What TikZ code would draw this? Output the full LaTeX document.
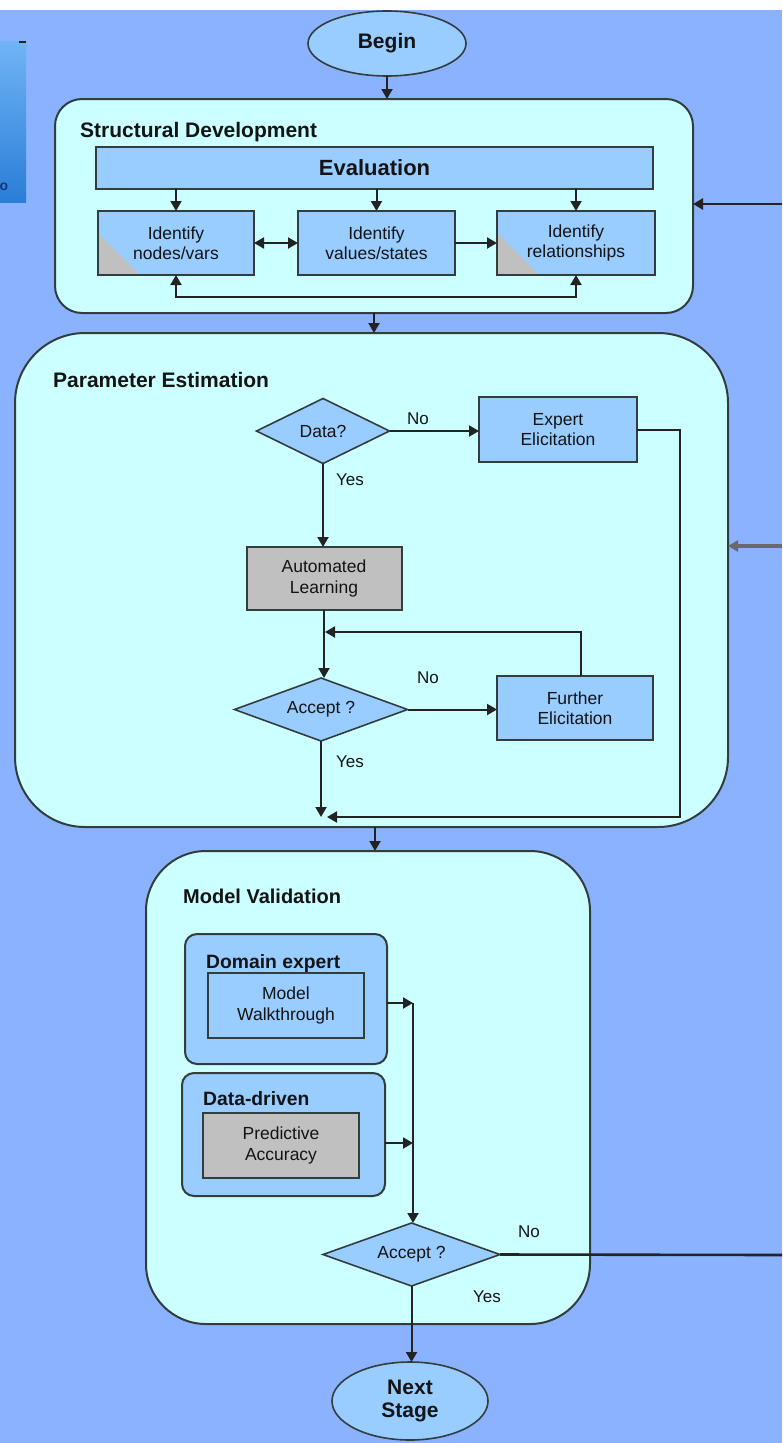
\documentclass[tikz,border=0pt]{standalone}
\usepackage{fontspec}
\setmainfont{Liberation Sans}
\usetikzlibrary{shapes.geometric,arrows.meta}
\definecolor{bgblue}{RGB}{138,178,255}
\definecolor{panelfill}{RGB}{204,255,255}
\definecolor{boxfill}{RGB}{153,204,255}
\definecolor{grayfill}{RGB}{192,192,192}
\definecolor{edge}{RGB}{50,62,62}
\definecolor{lineclr}{RGB}{35,35,35}
\definecolor{feedgray}{RGB}{105,105,105}
\definecolor{tabtop}{RGB}{112,180,246}
\definecolor{tabbot}{RGB}{42,126,214}
\definecolor{tabtext}{RGB}{25,50,130}

\begin{document}
\begin{tikzpicture}[x=1pt,y=-1pt,
  every node/.style={font=\fontsize{17.5}{20.5}\selectfont, text=black!92},
  panel/.style={draw=edge, fill=panelfill, line width=2pt, inner sep=0pt, outer sep=0pt, rectangle},
  box/.style={draw=edge, fill=boxfill, line width=2pt, rectangle, align=center, inner sep=0pt, outer sep=0pt},
  graybox/.style={box, fill=grayfill},
  decision/.style={diamond, draw=edge, fill=boxfill, line width=1.6pt, inner sep=0pt, outer sep=0pt, aspect=2},
  terminal/.style={ellipse, draw=edge, fill=boxfill, line width=1.6pt, inner sep=0pt, outer sep=0pt, align=center,
                   font=\fontsize{21}{23}\selectfont\bfseries},
  title/.style={anchor=base west, inner sep=0pt, font=\fontsize{21}{24}\selectfont\bfseries},
  subtitle/.style={title, font=\fontsize{19.3}{22}\selectfont\bfseries},
  lbl/.style={inner sep=0pt, font=\fontsize{17}{20}\selectfont},
  conn/.style={draw=lineclr, line width=2pt},
  arr/.style={conn, -{Triangle[length=10pt,width=11pt]}},
  darr/.style={conn, {Triangle[length=10pt,width=11pt]}-{Triangle[length=10pt,width=11pt]}},
]

% canvas
\fill[bgblue] (0,0) rectangle (782,1443);
\fill[white] (0,0) rectangle (782,10);
\useasboundingbox (0,0) rectangle (782,1443);

% side tab at the left edge
\shade[top color=tabtop, bottom color=tabbot] (0,41) rectangle (26,202);
\draw[lineclr, line width=2pt] (19,42) -- (26,42);
\node[inner sep=0pt, text=tabtext, font=\fontsize{14}{14}\selectfont\bfseries] (tabo) at (4,187) {o};

% ---------------- Structural Development ----------------
\node[panel, rounded corners=27pt, minimum width=638pt, minimum height=214pt] (sd) at (374,206) {};
\node[title] (sdtitle) at (80,137) {Structural Development};
\node[box, minimum width=557pt, minimum height=42pt, font=\fontsize{22}{24}\selectfont\bfseries] (eval) at (374.5,168) {Evaluation};
\node[box, minimum width=156pt, minimum height=64pt] (id1) at (176,243) {Identify\\nodes/vars};
\node[box, minimum width=157pt, minimum height=64pt] (id2) at (376.5,243) {Identify\\values/states};
\node[box, minimum width=158pt, minimum height=64pt] (id3) at (576,243) {Identify\\relationships};

% shaded corners
\foreach \b in {id1,id3}{
  \fill[grayfill] (\b.south west) -- ++(0,-42) -- ++(42,42) -- cycle;
  \draw[edge, line width=2pt] (\b.south west) rectangle (\b.north east);
}

\node[terminal, minimum width=158pt, minimum height=65pt] (begin) at (387,43.5) {Begin};
\draw[arr] (begin.south) -- (begin.south |- sd.north);

\foreach \b in {id1,id2,id3}
  \draw[arr] (\b.north |- eval.south) -- (\b.north);
\draw[darr] (id1.east) -- (id2.west);
\draw[arr] (id2.east) -- (id3.west);
\coordinate (sdbus) at (0,297);
\draw[darr] (id1.south) -- (id1.south |- sdbus) -| (id3.south);

\coordinate (inSD) at (782,204);
\draw[arr, line width=2.6pt] (inSD) -- (inSD -| sd.east);

% ---------------- Parameter Estimation ----------------
\node[panel, rounded corners=70pt, minimum width=713pt, minimum height=494pt] (pe) at (371.5,580) {};
\draw[arr] (sd.south) -- (sd.south |- pe.north);
\node[title] (petitle) at (53,387) {Parameter Estimation};

\node[decision, minimum width=133pt, minimum height=65pt] (data) at (323,431) {Data?};
\node[box, minimum width=158pt, minimum height=65pt] (expert) at (558,429.5) {Expert\\Elicitation};
\node[graybox, minimum width=155pt, minimum height=63pt] (auto) at (324,578.5) {Automated\\Learning};
\node[decision, minimum width=173pt, minimum height=63pt] (acc1) at (321,709.5) {Accept ?};
\node[box, minimum width=156pt, minimum height=64pt] (further) at (575,708) {Further\\Elicitation};

\node[lbl] (noData) at (418,419) {No};
\node[lbl] (yesData) at (350,480) {Yes};
\node[lbl] (noAcc1) at (428,678) {No};
\node[lbl] (yesAcc1) at (350,762) {Yes};

\draw[arr] (data.east) -- (data.east -| expert.west);
\draw[arr] (data.south) -- (data.south |- auto.north);
\draw[arr] (auto.south) -- (auto.south |- acc1.north);
\coordinate (loopJoin) at (325,632);
\draw[arr] ([xshift=6pt]further.north) |- (loopJoin);
\draw[arr] (acc1.east) -- (acc1.east -| further.west);
\coordinate (peJoin) at (324,817);
\coordinate (peCorner) at (680,817);
\draw[arr] (acc1.south) -- (acc1.south |- peJoin);
\draw[arr] (expert.east) -| (peCorner) -- ([xshift=3pt]peJoin);

\coordinate (inPE) at (782,546);
\draw[arr, draw=feedgray, line width=3.5pt] (inPE) -- (inPE -| pe.east);

% ---------------- Model Validation ----------------
\node[panel, rounded corners=60pt, minimum width=444pt, minimum height=473pt] (mv) at (368,1087.5) {};
\draw[arr] ([xshift=3.5pt]pe.south) -- ([xshift=3.5pt]pe.south |- mv.north);
\node[title, font=\fontsize{20}{22}\selectfont\bfseries] (mvtitle) at (183,903) {Model Validation};

\node[box, rounded corners=12pt, minimum width=202pt, minimum height=130pt] (domain) at (286,999) {};
\node[subtitle] (domaintitle) at (206,968) {Domain expert};
\node[box, minimum width=156pt, minimum height=65pt] (walk) at (286,1005.5) {Model\\Walkthrough};

\node[box, rounded corners=12pt, minimum width=203pt, minimum height=123pt] (dd) at (283.5,1134.5) {};
\node[subtitle] (ddtitle) at (203,1105) {Data-driven};
\node[graybox, minimum width=156pt, minimum height=65pt] (pred) at (281,1145.5) {Predictive\\Accuracy};

\node[decision, minimum width=177pt, minimum height=63pt] (acc2) at (411.5,1254.5) {Accept ?};
\node[lbl] (noAcc2) at (529,1232) {No};
\node[lbl] (yesAcc2) at (487,1297) {Yes};

\node[terminal, minimum width=156pt, minimum height=78pt] (next) at (410,1401) {Next\\Stage};

\coordinate (busTop) at (413,1003);
\coordinate (busMid) at (413,1143);
\draw[arr] (domain.east |- busTop) -- (busTop);
\draw[arr] (dd.east |- busMid) -- (busMid);
\draw[arr] (busTop) -- (busTop |- acc2.north);
\coordinate (outMV) at (782,1255);
\draw[conn, line width=2.6pt] (acc2.east) -- (outMV);
\draw[arr] (acc2.south) -- (acc2.south |- next.north);

\end{tikzpicture}
\end{document}
